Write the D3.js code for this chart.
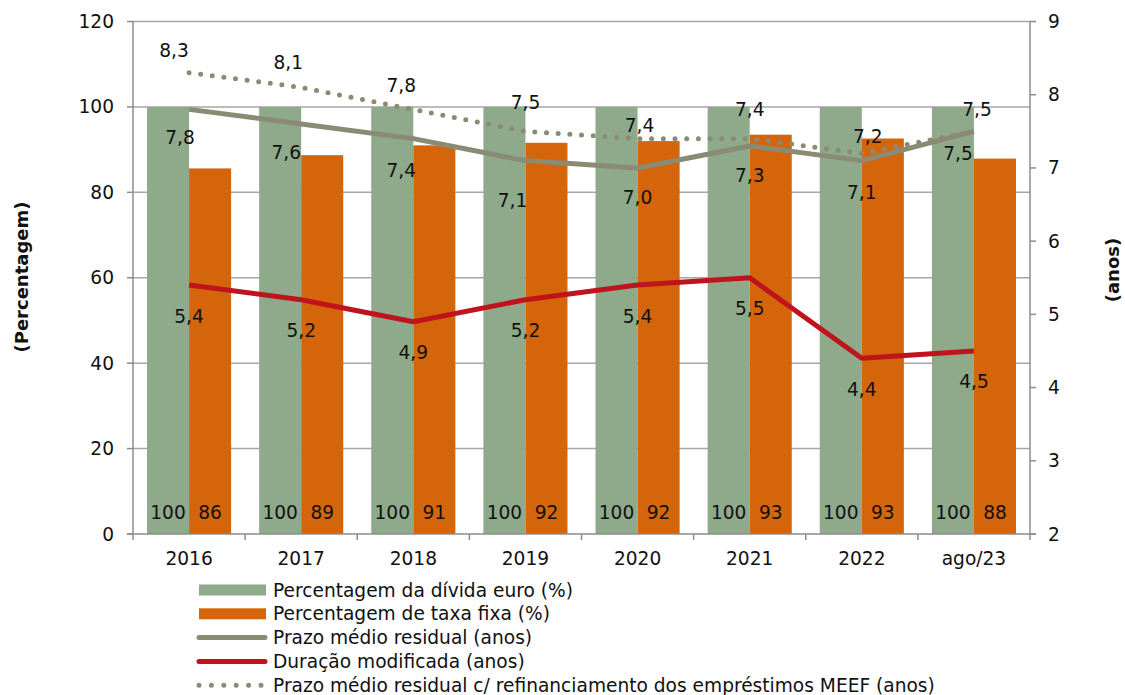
<!DOCTYPE html>
<html>
<head>
<meta charset="utf-8">
<script src="https://cdn.jsdelivr.net/npm/d3@7"></script>
<style>
  html, body { margin: 0; padding: 0; background: #fff; }
  svg { display: block; font-family: "DejaVu Sans", Verdana, sans-serif; }
</style>
</head>
<body>
<svg id="chart" width="1125" height="695"></svg>
<script>
// ---- data ----
const categories = ["2016", "2017", "2018", "2019", "2020", "2021", "2022", "ago/23"];
const dividaEuro = [100, 100, 100, 100, 100, 100, 100, 100];
const taxaFixa = [86, 89, 91, 92, 92, 93, 93, 88];
const taxaFixaBar = [85.6, 88.7, 91.0, 91.6, 92.0, 93.5, 92.6, 87.9];
const prazoMedio = [7.8, 7.6, 7.4, 7.1, 7.0, 7.3, 7.1, 7.5];
const duracao = [5.4, 5.2, 4.9, 5.2, 5.4, 5.5, 4.4, 4.5];
const prazoMEEF = [8.3, 8.1, 7.8, 7.5, 7.4, 7.4, 7.2, 7.5];
const leftTicks = [0, 20, 40, 60, 80, 100, 120];
const rightTicks = [2, 3, 4, 5, 6, 7, 8, 9];
const legendLabels = [
  "Percentagem da dívida euro (%)",
  "Percentagem de taxa fixa (%)",
  "Prazo médio residual (anos)",
  "Duração modificada (anos)",
  "Prazo médio residual c/ refinanciamento dos empréstimos MEEF (anos)"
];

// label nudges (layout, not data)
const prazoLabelNudge = [[-9, 28], [-15, 28], [-12, 32], [-13, 40], [0, 30], [0, 30], [0, 32], [-16, 22]];
const meefLabelNudge = [[-15, -22], [-13, -25], [-12, -24], [0, -29], [2, -13], [0, -29], [6, -17], [3, -22]];
const durLabelNudge = [0, 31];

// ---- layout ----
const L = 133, R = 1030, T = 21.5, B = 534;
const colGreen = "#8faa8b", colOrange = "#d4650a", colGray = "#8b8a73", colRed = "#c0141c";
const axisCol = "#8c8c8c", gridCol = "#a6a6a6";
const fs = 18.6;

const svg = d3.select("#chart");
const x = d3.scaleBand().domain(categories).range([L, R]).paddingInner(0.25).paddingOuter(0.125);
const xb = d3.scaleBand().domain(categories).range([L, R]);
const yL = d3.scaleLinear().domain([0, 120]).range([B, T]);
const yR = d3.scaleLinear().domain([2, 9]).range([B, T]);
const sub = d3.scaleBand().domain(["euro", "fixa"]).range([0, x.bandwidth()]);

// gridlines
svg.append("g").selectAll("line").data(leftTicks.filter(d => d > 0)).join("line")
  .attr("x1", L).attr("x2", R).attr("y1", d => yL(d)).attr("y2", d => yL(d))
  .attr("stroke", gridCol).attr("stroke-width", 1.5);

// bars
const grp = svg.append("g").selectAll("g").data(categories).join("g")
  .attr("transform", d => `translate(${x(d)},0)`);
grp.append("rect").attr("x", sub("euro")).attr("width", sub.bandwidth())
  .attr("y", (d, i) => yL(dividaEuro[i])).attr("height", (d, i) => B - yL(dividaEuro[i]))
  .attr("fill", colGreen);
grp.append("rect").attr("x", sub("fixa")).attr("width", sub.bandwidth())
  .attr("y", (d, i) => yL(taxaFixaBar[i])).attr("height", (d, i) => B - yL(taxaFixaBar[i]))
  .attr("fill", colOrange);
grp.append("text").attr("x", sub("euro") + sub.bandwidth() / 2).attr("y", 519)
  .attr("text-anchor", "middle").attr("font-size", fs).attr("fill", "#111")
  .text((d, i) => dividaEuro[i]);
grp.append("text").attr("x", sub("fixa") + sub.bandwidth() / 2).attr("y", 519)
  .attr("text-anchor", "middle").attr("font-size", fs).attr("fill", "#111")
  .text((d, i) => taxaFixa[i]);

// axes
const ax = svg.append("g");
ax.append("line").attr("x1", L).attr("x2", L).attr("y1", T).attr("y2", B).attr("stroke", axisCol).attr("stroke-width", 1.5);
ax.append("line").attr("x1", R).attr("x2", R).attr("y1", T).attr("y2", B).attr("stroke", axisCol).attr("stroke-width", 1.5);
ax.append("line").attr("x1", L - 6).attr("x2", R + 6).attr("y1", B).attr("y2", B).attr("stroke", axisCol).attr("stroke-width", 1.5);
// left ticks
ax.selectAll(".lt").data(leftTicks).join("line").attr("class", "lt")
  .attr("x1", L - 6).attr("x2", L).attr("y1", d => yL(d)).attr("y2", d => yL(d)).attr("stroke", axisCol).attr("stroke-width", 1.5);
ax.selectAll(".ltl").data(leftTicks).join("text").attr("class", "ltl")
  .attr("x", 114).attr("y", d => yL(d)).attr("dy", "0.35em").attr("text-anchor", "end")
  .attr("font-size", fs).attr("fill", "#111").text(d => d);
// right ticks
ax.selectAll(".rt").data(rightTicks).join("line").attr("class", "rt")
  .attr("x1", R).attr("x2", R + 6).attr("y1", d => yR(d)).attr("y2", d => yR(d)).attr("stroke", axisCol).attr("stroke-width", 1.5);
ax.selectAll(".rtl").data(rightTicks).join("text").attr("class", "rtl")
  .attr("x", 1048).attr("y", d => yR(d)).attr("dy", "0.35em").attr("text-anchor", "start")
  .attr("font-size", fs).attr("fill", "#111").text(d => d);
// bottom ticks at band boundaries
const bounds = categories.map(c => xb(c)).concat([R]);
ax.selectAll(".bt").data(bounds).join("line").attr("class", "bt")
  .attr("x1", d => d).attr("x2", d => d).attr("y1", B).attr("y2", B + 6).attr("stroke", axisCol).attr("stroke-width", 1.5);
ax.selectAll(".btl").data(categories).join("text").attr("class", "btl")
  .attr("x", d => xb(d) + xb.bandwidth() / 2).attr("y", 565).attr("text-anchor", "middle")
  .attr("font-size", fs).attr("fill", "#111").text(d => d);

// axis titles
svg.append("text").attr("transform", "translate(28,277) rotate(-90)").attr("text-anchor", "middle")
  .attr("font-size", 18).attr("font-weight", "bold").attr("fill", "#111").text("(Percentagem)");
svg.append("text").attr("transform", "translate(1119,270) rotate(-90)").attr("text-anchor", "middle")
  .attr("font-size", 18).attr("font-weight", "bold").attr("fill", "#111").text("(anos)");

// lines
const cx = (d, i) => xb(categories[i]) + xb.bandwidth() / 2;
const line = d3.line().x(cx).y(d => yR(d));
svg.append("path").attr("d", line(prazoMEEF)).attr("fill", "none").attr("stroke", colGray)
  .attr("stroke-width", 5).attr("stroke-linecap", "round").attr("stroke-dasharray", "0 11.7");
svg.append("path").attr("d", line(prazoMedio)).attr("fill", "none").attr("stroke", colGray)
  .attr("stroke-width", 5).attr("stroke-linejoin", "round");
svg.append("path").attr("d", line(duracao)).attr("fill", "none").attr("stroke", colRed)
  .attr("stroke-width", 5).attr("stroke-linejoin", "round");

const fmt = v => d3.format(".1f")(v).replace(".", ",");
const lbl = svg.append("g").attr("font-size", fs).attr("fill", "#111").attr("text-anchor", "middle");
lbl.selectAll(".lp").data(prazoMedio).join("text").attr("class", "lp")
  .attr("x", (d, i) => cx(d, i) + prazoLabelNudge[i][0]).attr("y", (d, i) => yR(d) + prazoLabelNudge[i][1])
  .attr("dy", "0.35em").text(fmt);
lbl.selectAll(".lm").data(prazoMEEF).join("text").attr("class", "lm")
  .attr("x", (d, i) => cx(d, i) + meefLabelNudge[i][0]).attr("y", (d, i) => yR(d) + meefLabelNudge[i][1])
  .attr("dy", "0.35em").text(fmt);
lbl.selectAll(".ld").data(duracao).join("text").attr("class", "ld")
  .attr("x", (d, i) => cx(d, i) + durLabelNudge[0]).attr("y", d => yR(d) + durLabelNudge[1])
  .attr("dy", "0.35em").text(fmt);

// legend
const lg = svg.append("g");
const rowY = i => 590 + i * 23.8;
lg.append("rect").attr("x", 199).attr("y", rowY(0) - 5.5).attr("width", 67).attr("height", 11).attr("fill", colGreen);
lg.append("rect").attr("x", 199).attr("y", rowY(1) - 5.5).attr("width", 67).attr("height", 11).attr("fill", colOrange);
lg.append("line").attr("x1", 199).attr("x2", 265).attr("y1", rowY(2)).attr("y2", rowY(2))
  .attr("stroke", colGray).attr("stroke-width", 5).attr("stroke-linecap", "round");
lg.append("line").attr("x1", 199).attr("x2", 265).attr("y1", rowY(3)).attr("y2", rowY(3))
  .attr("stroke", colRed).attr("stroke-width", 5).attr("stroke-linecap", "round");
lg.append("line").attr("x1", 199).attr("x2", 266).attr("y1", rowY(4)).attr("y2", rowY(4))
  .attr("stroke", colGray).attr("stroke-width", 5).attr("stroke-linecap", "round").attr("stroke-dasharray", "0 12.4");
lg.selectAll("text").data(legendLabels).join("text")
  .attr("x", 273).attr("y", (d, i) => rowY(i)).attr("dy", "0.35em")
  .attr("font-size", fs).attr("fill", "#111").text(d => d);
</script>
</body>
</html>
